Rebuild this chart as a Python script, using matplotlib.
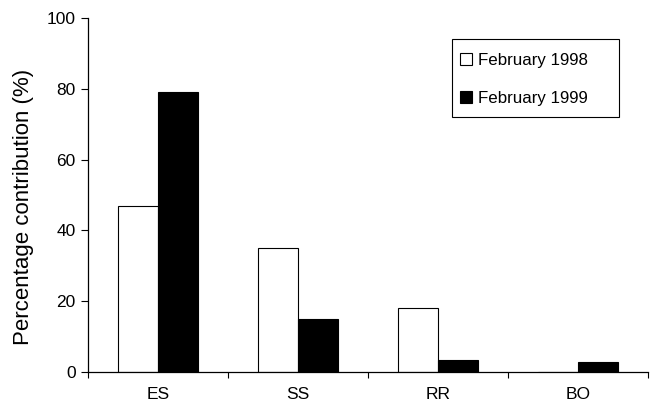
import numpy as np
import matplotlib
matplotlib.use("Agg")
import matplotlib.pyplot as plt
from matplotlib.patches import Rectangle

plt.rcParams['font.family'] = ['Liberation Sans', 'DejaVu Sans']

# percentage contribution per group
categories = ['ES', 'SS', 'RR', 'BO']
feb_1998 = [47, 35, 18, 0]
feb_1999 = [79, 15, 3.5, 3]
series_labels = ['February 1998', 'February 1999']

fig = plt.figure(figsize=(6.53, 4.01), dpi=100)
ax = fig.add_axes([0.135, 0.072, 0.857, 0.883])

x = np.arange(len(categories))
w = 0.286
ax.bar(x - w / 2, feb_1998, w, color='white', edgecolor='black', linewidth=0.8, label=series_labels[0])
ax.bar(x + w / 2, feb_1999, w, color='black', edgecolor='black', linewidth=0.8, label=series_labels[1])

ax.set_xlim(-0.5, len(categories) - 0.5)
ax.set_ylim(0, 100)
ax.set_yticks(range(0, 101, 20))

# category names centred, tick marks on the boundaries
ax.set_xticks(x)
ax.set_xticklabels(categories, fontsize=12.5)
ax.set_xticks(np.arange(-0.5, len(categories)), minor=True)
ax.tick_params(axis='x', which='major', length=0, pad=11)
ax.tick_params(axis='x', which='minor', length=4, width=0.8, direction='out')
ax.tick_params(axis='y', length=5, width=0.8, direction='out', labelsize=12.5, pad=4)

for s in ['top', 'right']:
    ax.spines[s].set_visible(False)
for s in ['left', 'bottom']:
    ax.spines[s].set_linewidth(0.9)

ax.set_ylabel('Percentage contribution (%)', fontsize=16)
ax.yaxis.set_label_coords(-0.096, 0.466)

# legend entries without frame, box drawn separately
leg = ax.legend(loc='upper left', bbox_to_anchor=(0.704, 0.868), bbox_transform=fig.transFigure,
                fontsize=12.2, frameon=False,
                labelspacing=1.35, handlelength=0.75, handleheight=0.75, handletextpad=0.35,
                borderpad=0, borderaxespad=0)
fig.patches.append(Rectangle((452 / 653, 1 - 117 / 401), 167 / 653, 78 / 401,
                             transform=fig.transFigure, fill=False, edgecolor='black', linewidth=0.8))

fig.savefig('out.png', dpi=100)
